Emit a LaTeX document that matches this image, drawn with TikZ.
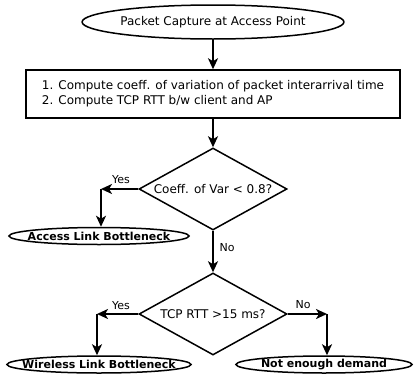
\documentclass[tikz,border=0pt]{standalone}
\usepackage{fontspec}
\setmainfont{DejaVu Sans}
\usetikzlibrary{shapes.geometric,arrows.meta}
\begin{document}
\begin{tikzpicture}[x=1pt,y=-1pt,
  term/.style={draw,ellipse,line width=1.5pt,inner sep=0pt,font=\fontsize{12}{14}\selectfont},
  res/.style={draw,ellipse,line width=1.5pt,inner sep=0pt},
  rtxt/.style={font=\bfseries\fontsize{11}{14}\selectfont},
  proc/.style={draw,rectangle,line width=1.5pt,inner sep=0pt,align=left,font=\fontsize{12}{15}\selectfont},
  dec/.style={draw,diamond,line width=1.5pt,inner sep=0pt,minimum width=148pt,minimum height=82pt},
  dtxt/.style={font=\fontsize{12}{14}\selectfont},
  arr/.style={line width=2pt,-{Stealth[length=11pt,width=10pt,inset=3pt]}},
  lbl/.style={font=\fontsize{11}{13}\selectfont,inner sep=0pt}]
\useasboundingbox (0,0) rectangle (415,375);
\node[term,minimum width=258pt,minimum height=34pt] (start) at (213,22) {Packet Capture at Access Point};
\node[proc,minimum width=374pt,minimum height=48pt] (comp) at (213,94) {1. Compute coeff. of variation of packet interarrival time\\2. Compute TCP RTT b/w client and AP};
\node[dec,label={[dtxt]center:Coeff. of Var < 0.8?}] (d1) at (213,189) {};
\node[dec,label={[dtxt]center:TCP RTT >15 ms?}] (d2) at (213,314) {};
\node[res,minimum width=180pt,minimum height=17pt,label={[rtxt]center:Access Link Bottleneck}] (acc) at (99,236) {};
\node[res,minimum width=184pt,minimum height=17pt,label={[rtxt]center:Wireless Link Bottleneck}] (wire) at (99,364.5) {};
\node[res,minimum width=176pt,minimum height=17pt,label={[rtxt]center:Not enough demand}] (ned) at (324,364.5) {};
\coordinate (y1) at (101,189);
\coordinate (y2) at (97,314);
\coordinate (n2) at (327,314);
\draw[arr] (start) -- (comp);
\draw[arr] (comp) -- (d1);
\draw[arr] (d1.west) -- (y1);
\draw[arr] (y1) -- (y1 |- acc.north);
\draw[arr] (d1.south) -- (d2.north);
\draw[arr] (d2.west) -- (y2);
\draw[arr] (y2) -- (y2 |- wire.north);
\draw[arr] (d2.east) -- (n2);
\draw[arr] (n2) -- (n2 |- ned.north);
\node[lbl] (ly1) at (121,180) {Yes};
\node[lbl] (ln1) at (227,248) {No};
\node[lbl] (ly2) at (121,306) {Yes};
\node[lbl] (ln2) at (303,305) {No};
\end{tikzpicture}
\end{document}
